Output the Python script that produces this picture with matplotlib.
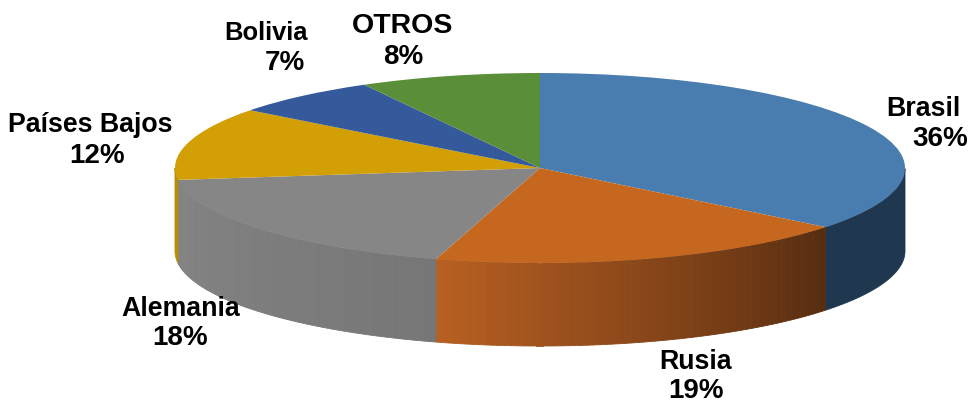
import numpy as np
import matplotlib
matplotlib.use("Agg")
import matplotlib.pyplot as plt
from matplotlib.colors import to_rgb
from matplotlib.transforms import Affine2D

categories = ["Brasil", "Rusia", "Alemania", "Países Bajos", "Bolivia", "OTROS"]
values = [35.7, 18.9, 18.4, 12.4, 6.6, 8.0]

top_colors = ["#4a7daf", "#c5671f", "#868686", "#d29f05", "#345a9c", "#5a8e38"]
# wall colour at the left / right end of each slice
wall_left = ["#1f3850", "#b85f22", "#848484", "#b98c05", "#25406f", "#3f6528"]
wall_right = ["#1f3850", "#552c10", "#767676", "#b98c05", "#25406f", "#3f6528"]

# centre of the name and the percentage of each label, in pixels
name_pos = [(923, 109), (696, 362), (181, 309), (90, 125), (266, 33), (403, 26)]
pct_pos = [(940, 139), (696, 391), (180, 338), (97, 156), (285, 63), (403, 57)]
name_size = [19.3, 19.3, 19.3, 19.3, 18.4, 20.5]
pct_size = 20

CX, CY, RX, RY, DEPTH = 540, 168, 365, 95, 83

plt.rcParams["font.family"] = ["Liberation Sans", "DejaVu Sans"]
fig = plt.figure(figsize=(9.69, 4.03), dpi=100)
ax = fig.add_axes([0, 0, 1, 1])

wedges, _ = ax.pie(values, startangle=90, counterclock=False, radius=1,
                   colors=top_colors, wedgeprops={"linewidth": 0, "zorder": 3})
tilt = Affine2D().scale(RX, -RY).translate(CX, CY) + ax.transData
for w in wedges:
    w.set_transform(tilt)

# side wall, derived from the pie's own wedge angles
for w, left, right in zip(wedges, wall_left, wall_right):
    c0, c1 = np.array(to_rgb(left)), np.array(to_rgb(right))
    n = 1 if left == right else max(int(abs(w.theta2 - w.theta1)), 1)
    th = np.linspace(w.theta1, w.theta2, n + 1)
    for i in range(n):
        a = np.radians(np.linspace(th[i], th[i + 1], 200))
        a = a[np.sin(a) <= 0]
        if a.size < 2:
            continue
        x = CX + RX * np.cos(a)
        y = CY - RY * np.sin(a)
        col = c0 + (c1 - c0) * (i / n)
        ax.fill(np.r_[x, x[::-1]], np.r_[y, y[::-1] + DEPTH],
                facecolor=col, edgecolor=col, lw=0.6, zorder=2)

ax.set_aspect("auto")
ax.set_xlim(0, 969)
ax.set_ylim(403, 0)
ax.axis("off")

for name, v, p, q, s in zip(categories, values, name_pos, pct_pos, name_size):
    ax.text(p[0], p[1], name, ha="center", va="center", fontsize=s,
            fontweight="bold", color="black", zorder=5)
    ax.text(q[0], q[1], f"{v:.0f}%", ha="center", va="center", fontsize=pct_size,
            fontweight="bold", color="black", zorder=5)

fig.savefig("out.png", dpi=100)
